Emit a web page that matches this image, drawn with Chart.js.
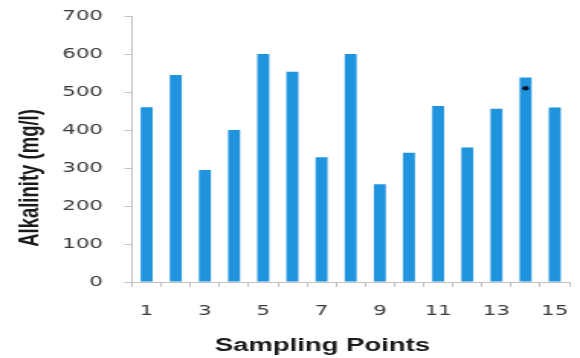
<!DOCTYPE html>
<html>
<head>
<meta charset="utf-8">
<script src="https://cdn.jsdelivr.net/npm/chart.js@4/dist/chart.umd.min.js"></script>
<style>
  html, body { margin: 0; padding: 0; background: #fff; overflow: hidden; }
  /* the plot is laid out narrow and widened horizontally */
  #wrap { width: 380px; height: 358px; transform: scaleX(1.5263); transform-origin: 0 0; }
</style>
</head>
<body>
<div id="wrap"><canvas id="chart"></canvas></div>
<script>
// Alkalinity per sampling point
const samplingPoints = ['1','2','3','4','5','6','7','8','9','10','11','12','13','14','15'];
const alkalinity = [460, 545, 295, 400, 600, 553, 328, 600, 257, 340, 463, 354, 456, 538, 459];
const yTicks = [0, 100, 200, 300, 400, 500, 600, 700];

// single marked reading
const markerSamples = ['14'];
const markerValues = [510];

const axisColor = '#c4c0bc';
const tickFont = { family: 'DejaVu Sans', size: 14 };

// axis captions placed where the report layout puts them
const axisCaptions = {
  id: 'axisCaptions',
  afterDraw(chart) {
    const { ctx, scales: { x } } = chart;
    ctx.save();
    ctx.fillStyle = '#1a1a1a';
    ctx.textAlign = 'center';
    ctx.textBaseline = 'middle';
    ctx.font = 'bold 18px "Liberation Sans"';
    ctx.fillText('Sampling Points', (x.left + x.right) / 2 - 18.4, x.bottom - 12);
    ctx.translate(20, 178);
    ctx.rotate(-Math.PI / 2);
    ctx.font = 'bold 18.5px "Liberation Sans"';
    ctx.fillText('Alkalinity (mg/l)', 0, 0);
    ctx.restore();
  }
};

new Chart(document.getElementById('chart'), {
  data: {
    labels: samplingPoints,
    datasets: [
      {
        type: 'line',
        data: markerSamples.map((s, i) => ({ x: s, y: markerValues[i] })),
        showLine: false,
        pointRadius: 2.2,
        pointBackgroundColor: '#0d1530',
        pointBorderWidth: 0,
        order: 0
      },
      {
        type: 'bar',
        data: alkalinity,
        backgroundColor: '#1f93de',
        borderWidth: 0,
        categoryPercentage: 1,
        barPercentage: 0.41,
        order: 1
      }
    ]
  },
  options: {
    responsive: true,
    maintainAspectRatio: false,
    animation: false,
    devicePixelRatio: 1,
    layout: { padding: { top: 16, right: 7, left: 0, bottom: 0 } },
    plugins: { legend: { display: false }, tooltip: { enabled: false } },
    scales: {
      x: {
        type: 'category',
        offset: true,
        grid: { display: true, drawOnChartArea: false, offset: true, tickLength: 5, color: axisColor },
        border: { display: true, color: axisColor, width: 1 },
        ticks: {
          autoSkip: false,
          maxRotation: 0,
          padding: 16,
          color: '#3a3a3a',
          font: tickFont,
          callback(value, index) { return index % 2 === 0 ? this.getLabelForValue(value) : ''; }
        },
        afterFit(scale) {
          scale.height = 76;
          scale.paddingLeft = 0;
          scale.paddingRight = 0;
        }
      },
      y: {
        min: yTicks[0],
        max: yTicks[yTicks.length - 1],
        afterBuildTicks(scale) { scale.ticks = yTicks.map(v => ({ value: v })); },
        grid: { display: true, drawOnChartArea: false, tickLength: 5, color: axisColor },
        border: { display: true, color: axisColor, width: 1 },
        ticks: { padding: 14, color: '#3a3a3a', font: tickFont },
        afterFit(scale) {
          scale.width = 86.5;
          scale.paddingTop = 0;
          scale.paddingBottom = 0;
        }
      }
    }
  },
  plugins: [axisCaptions]
});
</script>
</body>
</html>
